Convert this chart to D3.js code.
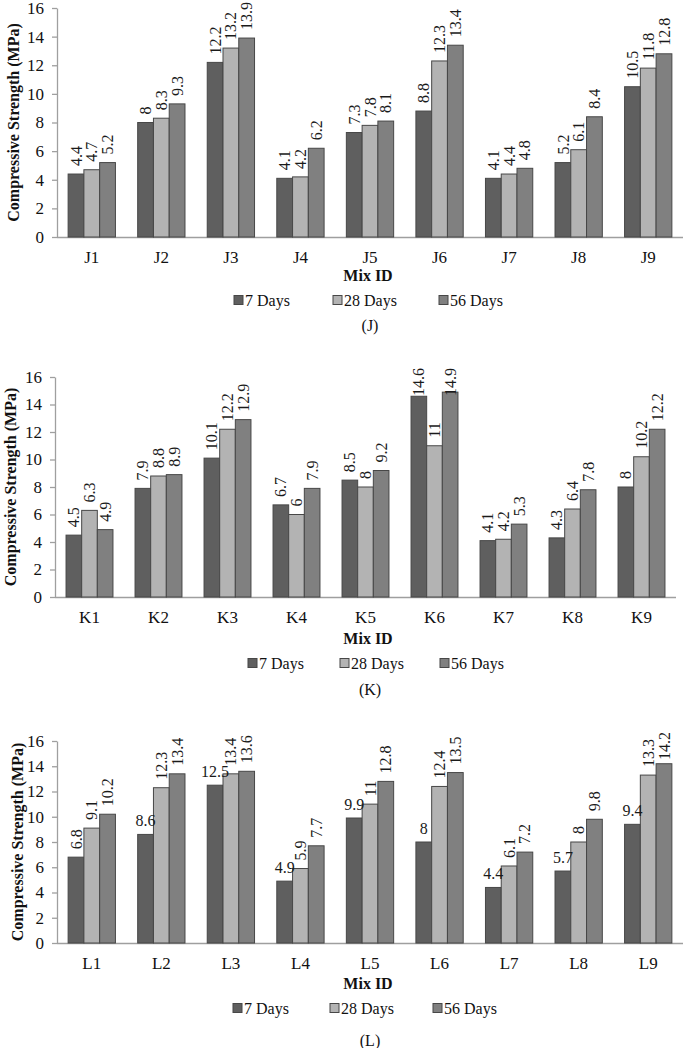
<!DOCTYPE html>
<html>

<head>
    <meta charset="utf-8">
    <style>
        body {
            margin: 0;
            background: #fff;
        }

        svg {
            display: block;
            font-family: 'Liberation Serif', 'Times New Roman', serif;
        }

        .axis text {
            font-family: 'Liberation Serif', 'Times New Roman', serif;
            font-size: 17px;
            fill: #111;
        }

        .y .tick line,
        .y .domain,
        .x .domain {
            stroke: #9f9f9f;
            stroke-width: 1.3;
        }

        .x .tick line {
            display: none;
        }

        .bar {
            stroke: #474747;
            stroke-width: 1;
        }

        .val {
            font-size: 16px;
            fill: #1a1a1a;
        }

        .axis-title {
            font-size: 16px;
            font-weight: bold;
            fill: #111;
        }

        .legend text,
        .caption {
            font-size: 16px;
            fill: #111;
        }
    </style>
</head>

<body>
    <svg width="685" height="1048"></svg>
</body>

<script src="https://d3js.org/d3.v7.min.js"></script>

<script>
    // data
    let seriesNames = ["7 Days", "28 Days", "56 Days"];
    let yTicks = [0, 2, 4, 6, 8, 10, 12, 14, 16];

    let mixJ = ["J1", "J2", "J3", "J4", "J5", "J6", "J7", "J8", "J9"];
    let j7 = [4.4, 8, 12.2, 4.1, 7.3, 8.8, 4.1, 5.2, 10.5];
    let j28 = [4.7, 8.3, 13.2, 4.2, 7.8, 12.3, 4.4, 6.1, 11.8];
    let j56 = [5.2, 9.3, 13.9, 6.2, 8.1, 13.4, 4.8, 8.4, 12.8];

    let mixK = ["K1", "K2", "K3", "K4", "K5", "K6", "K7", "K8", "K9"];
    let k7 = [4.5, 7.9, 10.1, 6.7, 8.5, 14.6, 4.1, 4.3, 8];
    let k28 = [6.3, 8.8, 12.2, 6, 8, 11, 4.2, 6.4, 10.2];
    let k56 = [4.9, 8.9, 12.9, 7.9, 9.2, 14.9, 5.3, 7.8, 12.2];

    let mixL = ["L1", "L2", "L3", "L4", "L5", "L6", "L7", "L8", "L9"];
    let l7 = [6.8, 8.6, 12.5, 4.9, 9.9, 8, 4.4, 5.7, 9.4];
    let l28 = [9.1, 12.3, 13.4, 5.9, 11, 12.4, 6.1, 8, 13.3];
    let l56 = [10.2, 13.4, 13.6, 7.7, 12.8, 13.5, 7.2, 9.8, 14.2];

    let colors = ["#5f5f5f", "#b3b3b3", "#808080"];

    let svg = d3.select("svg");

    // layout of the three stacked panels
    let panels = [
        {
            cats: mixJ, vals: [j7, j28, j56], caption: "(J)",
            x0: 57, x1: 683, yTop: 8, yBot: 237, titleX: 13,
            catY: 257, mixY: 275, legY: 300, capY: 325, legX: [234, 333, 439],
            flat: []
        },
        {
            cats: mixK, vals: [k7, k28, k56], caption: "(K)",
            x0: 55, x1: 676, yTop: 377, yBot: 597, titleX: 10,
            catY: 617, mixY: 638, legY: 663, capY: 689, legX: [248, 340, 440],
            flat: []
        },
        {
            cats: mixL, vals: [l7, l28, l56], caption: "(L)",
            x0: 57, x1: 683, yTop: 741, yBot: 943, titleX: 17,
            catY: 963, mixY: 983, legY: 1008, capY: 1040, legX: [233, 330, 433],
            // labels Excel left horizontal: [series, category]
            flat: [[0, 1], [0, 2], [0, 3], [0, 4], [0, 5], [0, 6], [0, 7], [0, 8]]
        }
    ];

    panels.forEach(drawPanel);

    function drawPanel(p) {
        let g = svg.append("g");

        let x = d3.scaleBand()
            .domain(p.cats)
            .range([p.x0, p.x1])
            .paddingInner(0.32)
            .paddingOuter(0.16);

        let xSub = d3.scaleBand()
            .domain(d3.range(seriesNames.length))
            .range([0, x.bandwidth()]);

        let y = d3.scaleLinear()
            .domain([0, 16])
            .range([p.yBot, p.yTop]);

        // y axis
        g.append("g")
            .attr("class", "y axis")
            .attr("transform", `translate(${p.x0},0)`)
            .call(d3.axisLeft(y).tickValues(yTicks).tickSize(5).tickPadding(8).tickSizeOuter(0));

        // x axis
        g.append("g")
            .attr("class", "x axis")
            .attr("transform", `translate(0,${p.yBot})`)
            .call(d3.axisBottom(x).tickSize(0).tickSizeOuter(0).tickPadding(0))
            .call(a => a.selectAll(".tick text")
                .attr("y", p.catY - p.yBot)
                .attr("dy", "0.35em"))
            .call(a => a.select(".domain").attr("d", `M${p.x0},0.5H${p.x1}`));

        let rows = [];
        p.vals.forEach((vals, s) => {
            vals.forEach((v, i) => rows.push({ s: s, cat: p.cats[i], i: i, v: v }));
        });

        g.append("g")
            .selectAll("rect")
            .data(rows)
            .join("rect")
            .attr("class", "bar")
            .attr("x", d => x(d.cat) + xSub(d.s))
            .attr("y", d => y(d.v))
            .attr("width", xSub.bandwidth())
            .attr("height", d => y(0) - y(d.v))
            .attr("fill", d => colors[d.s]);

        let isFlat = d => p.flat.some(f => f[0] == d.s && f[1] == d.i);

        let labels = g.append("g")
            .selectAll("text")
            .data(rows)
            .join("text")
            .attr("class", "val")
            .text(d => d.v);

        labels.each(function (d) {
            let t = d3.select(this);
            let cx = x(d.cat) + xSub(d.s) + xSub.bandwidth() / 2;
            if (isFlat(d)) {
                t.attr("x", cx)
                    .attr("y", y(d.v) - 8)
                    .attr("text-anchor", "middle");
            } else {
                let len = this.getComputedTextLength();
                let end = y(d.v) - 8;
                let limit = p.yTop - 9;
                if (end - len < limit) end = limit + len;
                t.attr("text-anchor", "start")
                    .attr("dy", "0.35em")
                    .attr("transform", `translate(${cx},${end}) rotate(-90)`);
            }
        });

        // axis titles
        g.append("text")
            .attr("class", "axis-title")
            .attr("text-anchor", "middle")
            .attr("dy", "0.35em")
            .attr("transform", `translate(${p.titleX},${(p.yTop + p.yBot) / 2}) rotate(-90)`)
            .text("Compressive Strength (MPa)");

        g.append("text")
            .attr("class", "axis-title")
            .attr("x", 368)
            .attr("y", p.mixY)
            .attr("dy", "0.35em")
            .attr("text-anchor", "middle")
            .text("Mix ID");

        // legend
        let leg = g.append("g").attr("class", "legend");
        seriesNames.forEach((name, s) => {
            leg.append("rect")
                .attr("x", p.legX[s])
                .attr("y", p.legY - 4.5)
                .attr("width", 9)
                .attr("height", 9)
                .attr("fill", colors[s])
                .attr("stroke", "#474747");
            leg.append("text")
                .attr("x", p.legX[s] + 11)
                .attr("y", p.legY)
                .attr("dy", "0.35em")
                .text(name);
        });

        g.append("text")
            .attr("class", "caption")
            .attr("x", 370)
            .attr("y", p.capY)
            .attr("dy", "0.35em")
            .attr("text-anchor", "middle")
            .text(p.caption);
    }
</script>

</html>
